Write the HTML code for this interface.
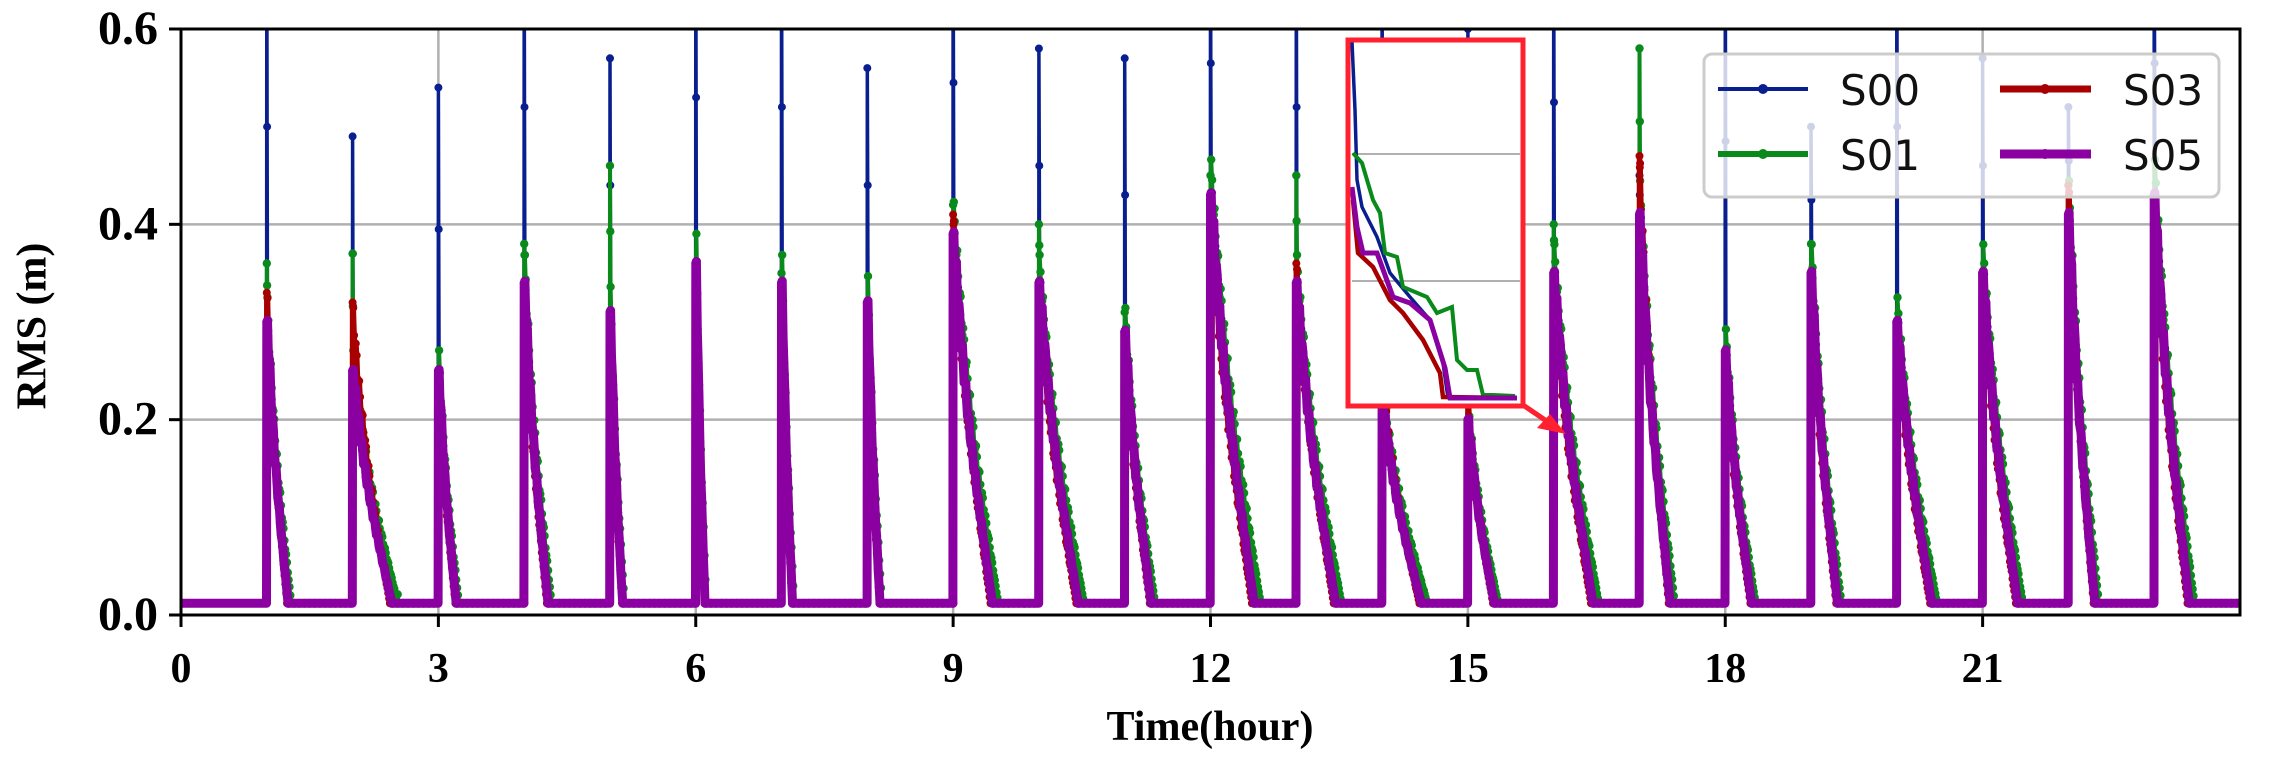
<!DOCTYPE html>
<html><head><meta charset="utf-8">
<style>
html,body{margin:0;padding:0;background:#fff;}
svg{display:block;}
.tk{font-family:"Liberation Serif",serif;font-weight:bold;font-size:42px;fill:#000;}
.lg{font-family:"DejaVu Sans",sans-serif;font-size:42px;fill:#111;}
</style></head>
<body>
<svg id="s" width="2270" height="758" viewBox="0 0 2270 758" xmlns="http://www.w3.org/2000/svg">
<defs><clipPath id="cp"><rect x="181" y="29" width="2059" height="586"/></clipPath></defs>
<rect width="2270" height="758" fill="#fff"/>
<g id="grid" stroke="#b0b0b0" stroke-width="2.5"></g>
<g id="data" clip-path="url(#cp)"></g>
<g id="inset">
<rect x="1346" y="38" width="179" height="370" fill="#fff"/>
<line x1="1352" y1="154" x2="1520" y2="154" stroke="#b0b0b0" stroke-width="2"/>
<line x1="1352" y1="281" x2="1520" y2="281" stroke="#b0b0b0" stroke-width="2"/>
<polyline fill="none" stroke="#0a1f8f" stroke-width="3.5" points="1352,42 1355,110 1357,180 1362,207 1377,237 1390,273 1410,297 1430,320 1443,363 1448,398"/>
<polyline fill="none" stroke="#0a8a1a" stroke-width="4" points="1353,153 1362,163 1373,200 1380,213 1385,253 1397,257 1403,287 1427,297 1437,313 1452,307 1457,360 1467,370 1477,370 1483,395 1493,395 1515,396"/>
<polyline fill="none" stroke="#a80000" stroke-width="4.5" points="1353,200 1358,253 1373,267 1390,300 1403,313 1423,340 1440,373 1443,397 1517,398"/>
<polyline fill="none" stroke="#8b00a0" stroke-width="5" points="1352,187 1357,227 1363,253 1377,253 1393,297 1410,303 1430,320 1445,368 1450,398 1517,398"/>
<rect x="1348" y="40" width="175" height="366" fill="none" stroke="#ff2030" stroke-width="5"/>
<line x1="1523" y1="405" x2="1548" y2="422" stroke="#ff2030" stroke-width="5"/>
<polygon points="1566,434 1537,428 1550,414" fill="#ff2030"/>
</g>
<g id="axes" stroke="#000" stroke-width="3" fill="none">
<rect x="181" y="29" width="2059" height="586"/>
</g>
<g id="ticks"></g>
<g>
<rect x="1704" y="54" width="515" height="143" rx="8" fill="#fff" fill-opacity="0.8" stroke="#cccccc" stroke-width="3"/>
<line x1="1718" y1="89" x2="1808" y2="89" stroke="#0a1f8f" stroke-width="4"/><circle cx="1763" cy="89" r="5" fill="#0a1f8f"/>
<text class="lg" x="1840" y="105">S00</text>
<line x1="1718" y1="154" x2="1808" y2="154" stroke="#0a8a1a" stroke-width="6"/><circle cx="1763" cy="154" r="5" fill="#0a8a1a"/>
<text class="lg" x="1840" y="170">S01</text>
<line x1="2000" y1="89" x2="2091" y2="89" stroke="#a80000" stroke-width="7"/><circle cx="2045" cy="89" r="5" fill="#a80000"/>
<text class="lg" x="2123" y="105">S03</text>
<line x1="2000" y1="154" x2="2091" y2="154" stroke="#8b00a0" stroke-width="9"/><circle cx="2045" cy="154" r="5" fill="#8b00a0"/>
<text class="lg" x="2123" y="170">S05</text>
</g>
<text class="tk" x="36" y="326" text-anchor="middle" transform="rotate(-90 36 326)" dominant-baseline="middle">RMS (m)</text>
<text class="tk" x="1210" y="740" text-anchor="middle" style="font-size:42px">Time(hour)</text>
</svg>
<script>
(function(){
var NS="http://www.w3.org/2000/svg";
function X(t){return 181+t*2059/24;}
function Y(v){return 615-v*586/0.6;}
function el(tag,attrs,parent){var e=document.createElementNS(NS,tag);for(var k in attrs)e.setAttribute(k,attrs[k]);parent.appendChild(e);return e;}
var grid=document.getElementById('grid'),ticks=document.getElementById('ticks');
[0.2,0.4].forEach(function(v){el('line',{x1:181,x2:2240,y1:Y(v),y2:Y(v)},grid);});
for(var h=3;h<24;h+=3){el('line',{x1:X(h),x2:X(h),y1:29,y2:615},grid);}
for(var h=0;h<24;h+=3){el('line',{x1:X(h),x2:X(h),y1:615,y2:627,stroke:'#000','stroke-width':3},ticks);
 var t=el('text',{x:X(h),y:682,'class':'tk','text-anchor':'middle'},ticks);t.textContent=h;}
[0,0.2,0.4,0.6].forEach(function(v){el('line',{x1:169,x2:181,y1:Y(v),y2:Y(v),stroke:'#000','stroke-width':3},ticks);
 var t=el('text',{x:158,y:Y(v)+15,'class':'tk','text-anchor':'end',style:'font-size:48px'},ticks);t.textContent=v.toFixed(1);});
var P={1:[0.7,0.36,0.33,0.30,0.24],2:[0.49,0.37,0.32,0.25,0.45],3:[0.54,0.25,0.25,0.25,0.2],4:[0.7,0.38,0.34,0.34,0.27],
5:[0.57,0.46,0.31,0.31,0.14],6:[0.7,0.36,0.36,0.36,0.1],7:[0.7,0.35,0.34,0.34,0.12],8:[0.56,0.32,0.32,0.32,0.14],
9:[0.7,0.42,0.41,0.39,0.45],10:[0.58,0.40,0.34,0.34,0.45],11:[0.57,0.31,0.29,0.29,0.3],12:[0.7,0.45,0.43,0.43,0.5],
13:[0.7,0.45,0.36,0.34,0.45],14:[0.7,0.3,0.25,0.22,0.45],15:[0.6,0.25,0.22,0.2,0.3],16:[0.7,0.40,0.35,0.35,0.45],
17:[0.45,0.58,0.47,0.41,0.35],18:[0.7,0.27,0.27,0.27,0.3],19:[0.50,0.38,0.35,0.35,0.3],20:[0.7,0.3,0.3,0.3,0.4],
21:[0.57,0.35,0.35,0.35,0.4],22:[0.52,0.44,0.44,0.41,0.3],23:[0.7,0.43,0.43,0.43,0.4]};
var S=[{c:'#0a1f8f',w:3.5,r:4,idx:0,df:1.05,sh:1.0},{c:'#0a8a1a',w:4,r:4.2,idx:1,df:1.15,sh:1.0},{c:'#a80000',w:5.5,r:4,idx:2,df:0.95,sh:0.95},{c:'#8b00a0',w:9,r:4.5,idx:3,df:1.0,sh:1.0}];
var data=document.getElementById('data');
S.forEach(function(s,si){
 var pts=[],mk=[];var base=0.012;
 pts.push([0,base]);
 for(var h=1;h<=23;h++){
  var p=P[h],pk=p[s.idx],sh=p[3]*s.sh*(si==1?1.05:1),d=p[4]*s.df;
  if(si==2&&p[2]>p[3]) sh=p[2]*0.95;
  pts.push([h-0.003,base]);pts.push([h,pk]);mk.push([h,pk]);
  if(pk>sh+0.02){pts.push([h+0.004,(pk+sh)/2]);mk.push([h+0.004,(pk+sh)/2]);}
  var n=Math.max(6,Math.round(d/0.01));
  for(var i=0;i<=n;i++){var u=i/n,t=h+0.008+u*d;
   var v=base+(sh-base)*(0.75*(1-u)+0.25*Math.pow(1-u,4))*(1+0.04*Math.sin(i*1.7+si));
   if(h==2&&t>2.5&&t<2.8) v+=0.035*Math.sin((t-2.5)/0.3*Math.PI)*(si==0?1.3:1);
   pts.push([t,v]);mk.push([t,v]);}
  var e=h+0.008+d+0.01;pts.push([e,base]);
  for(var t=e;t<h+1;t+=0.06)mk.push([t,base]);
 }
 pts.push([24,base]);
 var dstr=pts.map(function(q,i){return (i?'L':'M')+X(q[0]).toFixed(1)+' '+Y(q[1]).toFixed(1);}).join('');
 el('path',{d:dstr,fill:'none',stroke:s.c,'stroke-width':s.w,'stroke-linejoin':'round'},data);
 var md='';mk.forEach(function(q){var x=X(q[0]),y=Y(q[1]);md+='M'+(x-s.r).toFixed(1)+' '+y.toFixed(1)+'a'+s.r+' '+s.r+' 0 1 0 '+(2*s.r)+' 0a'+s.r+' '+s.r+' 0 1 0 '+(-2*s.r)+' 0';});
 el('path',{d:md,fill:s.c},data);
});
})();
</script>
</body></html>
